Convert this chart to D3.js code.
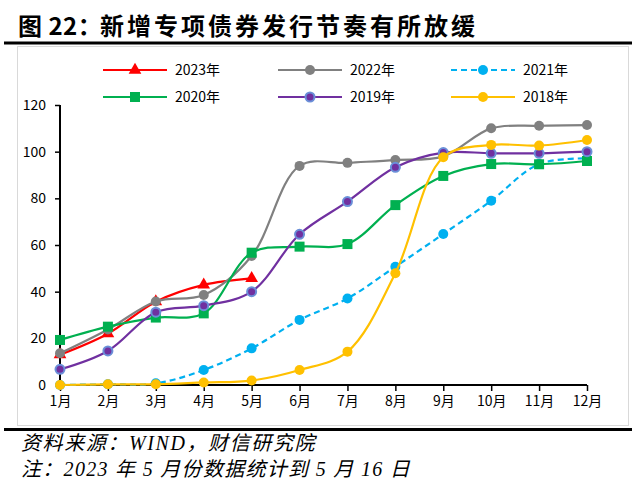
<!DOCTYPE html>
<html><head><meta charset="utf-8">
<script src="https://cdn.jsdelivr.net/npm/d3@7"></script>
<style>body{margin:0;background:#fff}svg{display:block}</style>
</head><body>
<svg id="c" width="640" height="483"></svg>
<script>
const months = ["1月","2月","3月","4月","5月","6月","7月","8月","9月","10月","11月","12月"];
const yTicks = [0,20,40,60,80,100,120];
const s2023 = [13,22,35.7,42.9,45.7];
const s2022 = [13.6,23.8,35.8,38.6,55.3,93.9,95.2,96.4,98,110,111.1,111.4];
const s2021 = [0,0.3,0.7,6.4,15.7,27.9,37.1,50.7,64.7,79,94.7,97.1];
const s2020 = [19.3,25,28.9,30.7,56.7,59.3,60.4,77.1,89.6,94.7,94.6,96];
const s2019 = [6.7,14.6,31.2,34,40,64.6,78.6,93.3,99.6,99.3,99.3,100];
const s2018 = [0,0.3,0.3,1.1,1.9,6.4,14.3,47.9,97.6,102.9,102.6,105];
const seriesNames = ["2023年","2022年","2021年","2020年","2019年","2018年"];

const series = [
  {name:seriesNames[0], data:s2023, color:"#FF0000", marker:"triangle"},
  {name:seriesNames[1], data:s2022, color:"#808080", marker:"circle"},
  {name:seriesNames[2], data:s2021, color:"#00B0F0", marker:"circle", dash:"6,4"},
  {name:seriesNames[3], data:s2020, color:"#00B050", marker:"square"},
  {name:seriesNames[4], data:s2019, color:"#7030A0", marker:"circle", stroke:"#6A8FD8"},
  {name:seriesNames[5], data:s2018, color:"#FFC000", marker:"circle"}
];

const svg = d3.select("#c");
const font = "'Noto Sans CJK SC', 'Liberation Sans', sans-serif";

// Title
const title = svg.append("text").attr("y",35)
  .attr("font-family",font).attr("font-weight","bold").attr("font-size",24).attr("fill","#000");
title.append("tspan").attr("x",18).attr("letter-spacing","0.5px").text("图 22：");
title.append("tspan").attr("x",100).attr("letter-spacing","3px").text("新增专项债券发行节奏有所放缓");
svg.append("line").attr("x1",4).attr("x2",632).attr("y1",43).attr("y2",43).attr("stroke","#000").attr("stroke-width",3);
// chart frame
svg.append("rect").attr("x",17.5).attr("y",46.5).attr("width",611).attr("height",379)
  .attr("fill","none").attr("stroke","#D9D9D9").attr("stroke-width",1);
svg.append("line").attr("x1",4).attr("x2",632).attr("y1",429.5).attr("y2",429.5).attr("stroke","#000").attr("stroke-width",3);

// footnotes
const noteFont = "'Liberation Serif', 'Noto Sans CJK SC', serif";
svg.append("text").attr("x",21).attr("y",450).attr("font-family",noteFont).attr("font-style","italic")
  .attr("font-size",20).attr("letter-spacing","1.6px").text("资料来源：WIND，财信研究院");
svg.append("text").attr("x",21).attr("y",476).attr("font-family",noteFont).attr("font-style","italic")
  .attr("font-size",20).attr("letter-spacing","1.3px").text("注：2023 年 5 月份数据统计到 5 月 16 日");

// scales
const x = d3.scalePoint().domain(months).range([60,587]);
const y = d3.scaleLinear().domain([0,120]).range([385,105]);

// axes
const yAxis = svg.append("g").attr("transform","translate(60,0)")
  .call(d3.axisLeft(y).tickValues(yTicks).tickSize(5).tickPadding(9));
yAxis.select(".domain").attr("stroke","#000").attr("stroke-width",2).attr("d","M0,105V385");
yAxis.selectAll(".tick line").attr("stroke","#000").attr("stroke-width",1.5);
yAxis.selectAll("text").attr("font-family",font).attr("font-size",14).attr("fill","#000");

const xAxis = svg.append("g").attr("transform","translate(0,385)")
  .call(d3.axisBottom(x).tickSize(6).tickPadding(5));
xAxis.select(".domain").attr("stroke","#000").attr("stroke-width",2).attr("d","M60,0H587");
xAxis.selectAll(".tick line").attr("stroke","#000").attr("stroke-width",1.5);
xAxis.selectAll("text").attr("font-family",font).attr("font-size",14).attr("fill","#000");

// lines
const line = d3.line().x((d,i)=>x(months[i])).y(d=>y(d)).curve(d3.curveCatmullRom.alpha(0.5));

function drawMarker(g, type, cx, cy, s) {
  let m;
  if (type==="triangle") {
    m = g.append("path").attr("d", d3.symbol().type(d3.symbolTriangle).size(70)())
      .attr("transform",`translate(${cx},${cy})`);
  } else if (type==="square") {
    m = g.append("rect").attr("x",cx-5).attr("y",cy-5).attr("width",10).attr("height",10);
  } else {
    m = g.append("circle").attr("cx",cx).attr("cy",cy).attr("r",5);
  }
  m.attr("fill",s.color);
  return m;
}

series.forEach(s=>{
  const g = svg.append("g");
  g.append("path").attr("d",line(s.data)).attr("fill","none").attr("stroke",s.color)
    .attr("stroke-width",2.2).attr("stroke-dasharray",s.dash||null);
  s.data.forEach((v,i)=>{
    const cx = x(months[i]), cy = y(v);
    if (s.stroke) {
      g.append("circle").attr("cx",cx).attr("cy",cy).attr("r",4.5).attr("fill",s.color)
        .attr("stroke",s.stroke).attr("stroke-width",2);
    } else drawMarker(g,s.marker,cx,cy,s);
  });
});

// legend
const legendPos = [[103,70],[278,70],[451,70],[103,97],[278,97],[451,97]];
series.forEach((s,k)=>{
  const [lx,ly] = legendPos[k];
  const g = svg.append("g");
  g.append("line").attr("x1",lx).attr("x2",lx+64).attr("y1",ly).attr("y2",ly)
    .attr("stroke",s.color).attr("stroke-width",2.2).attr("stroke-dasharray",s.dash||null);
  if (s.stroke) {
    g.append("circle").attr("cx",lx+32).attr("cy",ly).attr("r",4.5).attr("fill",s.color)
      .attr("stroke",s.stroke).attr("stroke-width",2);
  } else drawMarker(g,s.marker,lx+32,ly,s);
  g.append("text").attr("x",lx+72).attr("y",ly+5).attr("font-family",font).attr("font-size",14)
    .attr("fill","#000").text(s.name);
});
</script>
</body></html>
